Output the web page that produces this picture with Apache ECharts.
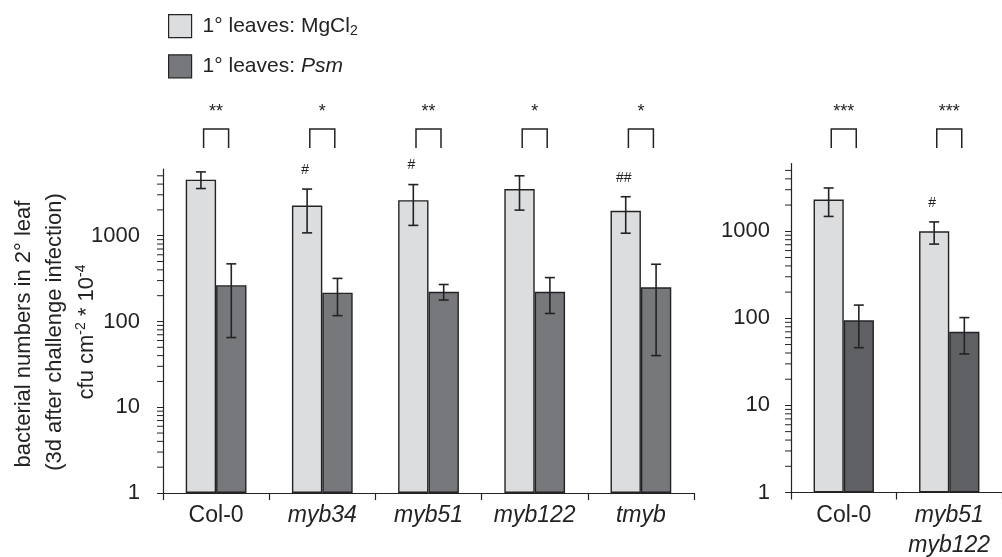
<!DOCTYPE html>
<html>
<head>
<meta charset="utf-8">
<script src="https://cdn.jsdelivr.net/npm/echarts@6/dist/echarts.min.js"></script>
<style>
  html, body { margin: 0; padding: 0; background: #fff; }
  #chart { width: 1002px; height: 557px; }
</style>
</head>
<body>
<div id="chart"></div>
<script>
// Bacterial titres in secondary leaves, 3 days after challenge infection.
// Left panel: single mutants; right panel: the myb51 myb122 double mutant.

const leftCategories = ['Col-0', 'myb34', 'myb51', 'myb122', 'tmyb'];
const leftMgCl2      = [4500, 2250, 2600, 3500, 1950];
const leftMgCl2Low   = [3550, 1080, 1320, 1990, 1070];
const leftMgCl2High  = [5550, 3500, 3950, 5000, 2850];
const leftPsm        = [265, 217, 222, 222, 250];
const leftPsmLow     = [65, 117, 178, 124, 40];
const leftPsmHigh    = [470, 318, 270, 325, 465];
const leftStars      = ['**', '*', '**', '*', '*'];
const leftHash       = ['', '#', '#', '', '##'];

const rightCategories = ['Col-0', 'myb51\nmyb122'];
const rightMgCl2      = [2310, 1000];
const rightMgCl2Low   = [1480, 712];
const rightMgCl2High  = [3140, 1280];
const rightPsm        = [95, 70];
const rightPsmLow     = [46, 39];
const rightPsmHigh    = [142, 102];
const rightStars      = ['***', '***'];
const rightHash       = ['', '#'];

const yMin = 1;
const yMax = 6000;

const FONT = '"Liberation Sans", Arial, Helvetica, sans-serif';
const INK = '#232323';
const LIGHT = '#dcdddf';
const DARK_LEFT = '#77787c';
const DARK_RIGHT = '#5f6064';
const BAR_FRACTION = 0.286;

function isDecade(v) {
  const l = Math.log10(v);
  return Math.abs(l - Math.round(l)) < 1e-6;
}

// minor ticks 2..9 of every decade inside the axis range
function minorTickValues() {
  const out = [];
  for (let d = 1; d < yMax; d *= 10) {
    for (let k = 2; k <= 9; k++) {
      const v = k * d;
      if (v < yMax) out.push([0, v]);
    }
  }
  return out;
}

function bandWidth(api) {
  return api.coord([1, 1])[0] - api.coord([0, 1])[0];
}

function renderMinorTick(params, api) {
  const p = api.coord([0, api.value(1)]);
  const x0 = p[0] - bandWidth(api) / 2;
  return {
    type: 'line',
    shape: { x1: x0 - 6, y1: p[1], x2: x0, y2: p[1] },
    style: { stroke: INK, lineWidth: 1 }
  };
}

function renderErrorBar(params, api) {
  const cat = api.value(0);
  const side = api.value(3);
  const off = side * bandWidth(api) * BAR_FRACTION / 2;
  const lo = api.coord([cat, api.value(1)]);
  const hi = api.coord([cat, api.value(2)]);
  const x = lo[0] + off;
  const cap = 5;
  const st = { stroke: INK, lineWidth: 1.6 };
  return {
    type: 'group',
    children: [
      { type: 'line', shape: { x1: x, y1: hi[1], x2: x, y2: lo[1] }, style: st },
      { type: 'line', shape: { x1: x - cap, y1: hi[1], x2: x + cap, y2: hi[1] }, style: st },
      { type: 'line', shape: { x1: x - cap, y1: lo[1], x2: x + cap, y2: lo[1] }, style: st }
    ]
  };
}

function annotationRenderer(stars, hashes) {
  return function (params, api) {
    const i = params.dataIndex;
    const cat = api.value(0);
    const band = bandWidth(api);
    const cx = api.coord([cat, 1])[0];
    const lightX = cx - band * BAR_FRACTION / 2;
    const hashY = api.coord([cat, api.value(1)])[1] - 19;
    const half = 12.5;
    const children = [
      {
        type: 'polyline',
        shape: { points: [[cx - half, 148], [cx - half, 129], [cx + half, 129], [cx + half, 148]] },
        style: { stroke: INK, lineWidth: 1.5, fill: null }
      },
      {
        type: 'text',
        x: cx, y: 112,
        style: { text: stars[i], fill: INK, fontSize: 18, fontFamily: FONT, align: 'center', verticalAlign: 'middle' }
      }
    ];
    if (hashes[i]) {
      children.push({
        type: 'text',
        x: lightX - 2, y: hashY,
        style: { text: hashes[i], fill: INK, fontSize: 14, fontFamily: FONT, align: 'center', verticalAlign: 'middle' }
      });
    }
    return { type: 'group', children: children };
  };
}

function errorRows(low, high, side) {
  return low.map((v, i) => [i, v, high[i], side]);
}

function categoryLabel(v) {
  if (v === 'Col-0') return '{n|' + v + '}';
  return v.split('\n').map(s => '{i|' + s + '}').join('\n');
}

const labelRich = {
  n: { fontSize: 23, fontFamily: FONT, color: INK, lineHeight: 30 },
  i: { fontSize: 23, fontFamily: FONT, color: INK, fontStyle: 'italic', lineHeight: 30 }
};

function xAxisFor(gridIndex, cats) {
  return {
    type: 'category',
    gridIndex: gridIndex,
    data: cats,
    axisLine: { show: true, lineStyle: { color: INK, width: 1.2 } },
    axisTick: { show: true, length: 7, alignWithLabel: false, lineStyle: { color: INK, width: 1.2 } },
    axisLabel: { margin: 8, formatter: categoryLabel, rich: labelRich, interval: 0 },
    splitLine: { show: false }
  };
}

function yAxisFor(gridIndex, margin) {
  return {
    type: 'log',
    logBase: 10,
    gridIndex: gridIndex,
    min: yMin,
    max: yMax,
    axisLine: { show: true, lineStyle: { color: INK, width: 1.2 } },
    axisTick: { show: true, length: 6, lineStyle: { color: INK, width: 1 } },
    axisLabel: {
      margin: margin,
      fontSize: 22,
      fontFamily: FONT,
      color: INK,
      showMaxLabel: false,
      formatter: v => (isDecade(v) ? String(Math.round(v)) : '')
    },
    splitLine: { show: false }
  };
}

function barSeries(name, axis, data, color) {
  return {
    type: 'bar',
    name: name,
    xAxisIndex: axis,
    yAxisIndex: axis,
    data: data,
    barWidth: (BAR_FRACTION * 100) + '%',
    barGap: '0%',
    itemStyle: { color: color, borderColor: INK, borderWidth: 1.4 },
    z: 2
  };
}

function customSeries(axis, data, renderItem, z) {
  return {
    type: 'custom',
    xAxisIndex: axis,
    yAxisIndex: axis,
    data: data,
    renderItem: renderItem,
    clip: false,
    silent: true,
    z: z,
    encode: { x: 0, y: 1 }
  };
}

const chart = echarts.init(document.getElementById('chart'), null, { renderer: 'canvas' });

chart.setOption({
  animation: false,
  backgroundColor: '#fff',
  grid: [
    { left: 163, top: 169, width: 531, height: 324 },
    { left: 791, top: 163.5, width: 225, height: 332.5 }
  ],
  xAxis: [xAxisFor(0, leftCategories), xAxisFor(1, rightCategories)],
  yAxis: [yAxisFor(0, 23), yAxisFor(1, 21)],
  legend: {
    orient: 'vertical',
    left: 163,
    top: 9,
    icon: 'rect',
    itemWidth: 23,
    itemHeight: 23,
    itemGap: 16,
    data: ['MgCl2', 'Psm'],
    itemStyle: { borderColor: INK, borderWidth: 1.2 },
    formatter: n => (n === 'MgCl2' ? '{t|1° leaves: MgCl}{s|2}' : '{t|1° leaves: }{it|Psm}'),
    textStyle: {
      padding: [0, 0, 0, 6],
      rich: {
        t: { fontSize: 21, fontFamily: FONT, color: INK, lineHeight: 24 },
        s: { fontSize: 14, fontFamily: FONT, color: INK, verticalAlign: 'bottom', lineHeight: 14 },
        it: { fontSize: 21, fontFamily: FONT, color: INK, fontStyle: 'italic', lineHeight: 24 }
      }
    }
  },
  graphic: [
    {
      type: 'text', x: 24, y: 334, rotation: Math.PI / 2,
      style: { text: 'bacterial numbers in 2° leaf', fill: INK, fontSize: 22, fontFamily: FONT, align: 'center', verticalAlign: 'middle' }
    },
    {
      type: 'text', x: 55, y: 332, rotation: Math.PI / 2,
      style: { text: '(3d after challenge infection)', fill: INK, fontSize: 22, fontFamily: FONT, align: 'center', verticalAlign: 'middle' }
    },
    {
      type: 'text', x: 87, y: 332, rotation: Math.PI / 2,
      style: {
        text: '{t|cfu cm}{s|-2}{t| * 10}{s|-4}',
        align: 'center', verticalAlign: 'middle',
        rich: {
          t: { fontSize: 22, fontFamily: FONT, fill: INK, color: INK, lineHeight: 26 },
          s: { fontSize: 14, fontFamily: FONT, fill: INK, color: INK, verticalAlign: 'top', lineHeight: 14 }
        }
      }
    }
  ],
  series: [
    barSeries('MgCl2', 0, leftMgCl2, LIGHT),
    barSeries('Psm', 0, leftPsm, DARK_LEFT),
    barSeries('MgCl2', 1, rightMgCl2, LIGHT),
    barSeries('Psm', 1, rightPsm, DARK_RIGHT),
    customSeries(0, errorRows(leftMgCl2Low, leftMgCl2High, -1).concat(errorRows(leftPsmLow, leftPsmHigh, 1)), renderErrorBar, 5),
    customSeries(1, errorRows(rightMgCl2Low, rightMgCl2High, -1).concat(errorRows(rightPsmLow, rightPsmHigh, 1)), renderErrorBar, 5),
    customSeries(0, leftMgCl2High.map((v, i) => [i, v]), annotationRenderer(leftStars, leftHash), 5),
    customSeries(1, rightMgCl2High.map((v, i) => [i, v]), annotationRenderer(rightStars, rightHash), 5),
    customSeries(0, minorTickValues(), renderMinorTick, 5),
    customSeries(1, minorTickValues(), renderMinorTick, 5)
  ]
});
</script>
</body>
</html>
